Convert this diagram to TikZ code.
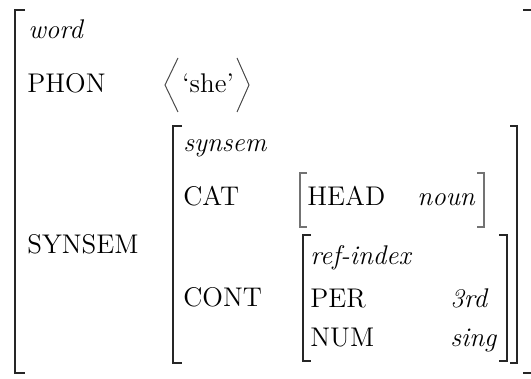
\documentclass[tikz,border=0pt]{standalone}
\usepackage{tikz}
\tikzset{
  feat/.style={inner sep=0pt, anchor=base west, font=\fontsize{13.5}{16}\selectfont},
  sort/.style={feat, font=\fontsize{13.5}{16}\selectfont\itshape},
  bigbrack/.style={draw=black!85, line width=1pt},
  smallbrack/.style={draw=black!55, line width=0.6pt},
}

\begin{document}
\begin{tikzpicture}[x=0.5pt, y=-0.5pt]
    \path[use as bounding box] (0,0) rectangle (531,379);

    % outer matrix
    \draw[bigbrack] (25,10) -- (15,10) -- (15,373) -- (25,373);
    \draw[bigbrack] (523,10) -- (533,10) -- (533,373) -- (523,373);
    \node[sort] at (28,39) (word) {word};
    \node[feat] at (27,93) (phon) {PHON};
    \node[feat] at (27,254) (synsem) {SYNSEM};

    % phon value
    \node[feat] at (182,93) (she) {‘she’};
    \draw[black!70, line width=0.5pt] (178,58) -- (165,85) -- (178,112);
    \draw[black!70, line width=0.5pt] (237,58) -- (249,85) -- (237,112);

    % synsem matrix
    \draw[bigbrack] (182,126) -- (173,126) -- (173,363) -- (182,363);
    \draw[bigbrack] (510,126) -- (517,126) -- (517,363) -- (510,363);
    \node[sort] at (183,152) (ss) {synsem};
    \node[feat] at (183,206) (cat) {CAT};
    \node[feat] at (183,307) (cont) {CONT};

    % cat value
    \draw[smallbrack] (307,173) -- (300,173) -- (300,227) -- (307,227);
    \draw[smallbrack] (477,173) -- (484,173) -- (484,227) -- (477,227);
    \node[feat] at (307,206) (head) {HEAD};
    \node[sort] at (417,206) (noun) {noun};

    % cont value
    \draw[bigbrack] (311,235) -- (303,235) -- (303,361) -- (311,361);
    \draw[bigbrack] (499,235) -- (507,235) -- (507,361) -- (499,361);
    \node[sort] at (310,265) (ref) {ref-index};
    \node[feat] at (310,308) (per) {PER};
    \node[sort] at (450,308) (third) {3rd};
    \node[feat] at (310,347) (num) {NUM};
    \node[sort] at (450,347) (sing) {sing};
\end{tikzpicture}
\end{document}
